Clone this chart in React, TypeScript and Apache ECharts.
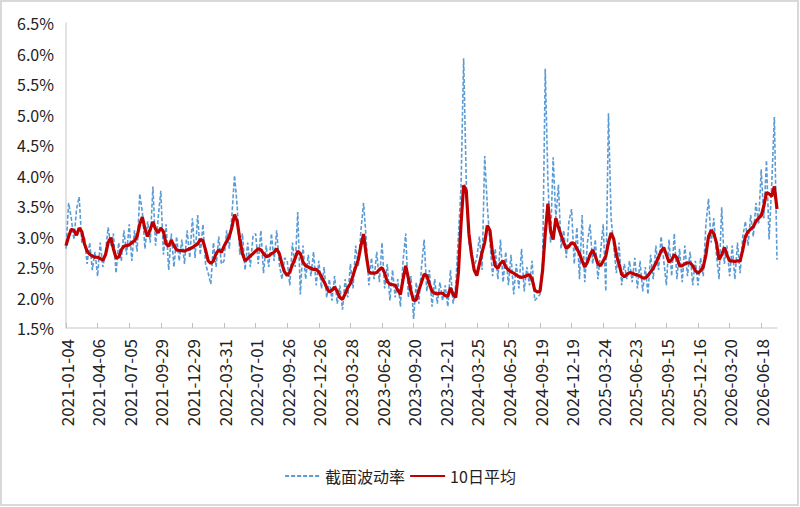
import React, { useEffect, useRef } from "react";
import * as echarts from "echarts";

const tickLabels = [
  "2021-01-04", "2021-04-06", "2021-07-05", "2021-09-29", "2021-12-29",
  "2022-03-31", "2022-07-01", "2022-09-26", "2022-12-26", "2023-03-28",
  "2023-06-28", "2023-09-20", "2023-12-21", "2024-03-25", "2024-06-25",
  "2024-09-19", "2024-12-19", "2025-03-24", "2025-06-23", "2025-09-15",
  "2025-12-16", "2026-03-20", "2026-06-18",
];

// weekly samples (in %), 12 samples between consecutive tick labels
const crossVol = [
  2.8, 3.55, 3.3, 2.95, 3.45, 3.65, 2.9, 3.0, 2.55, 2.9, 2.45, 2.75,
  2.35, 2.9, 2.5, 2.75, 3.15, 2.85, 3.05, 2.4, 2.9, 2.6, 3.1, 2.7,
  3.2, 2.6, 3.1, 2.75, 3.7, 3.4, 2.8, 3.25, 2.9, 3.82, 2.85, 3.3,
  3.75, 2.7, 3.2, 2.45, 3.05, 2.5, 3.0, 2.6, 2.95, 2.55, 3.1, 2.65,
  3.3, 2.65, 3.35, 2.7, 3.2, 2.55, 2.4, 2.22, 2.9, 2.5, 3.0, 2.55,
  2.6, 3.1, 2.8, 3.35, 4.0, 3.5, 2.7, 3.05, 2.45, 2.9, 2.5, 3.0,
  3.05, 2.55, 3.1, 2.4, 2.85, 2.5, 3.05, 2.6, 3.1, 2.55, 2.3, 2.65,
  2.6, 2.2, 2.9, 2.5, 3.4, 2.05, 2.85, 2.3, 2.7, 2.35, 2.75, 2.2,
  2.6, 2.15, 2.5, 2.0, 2.3, 1.95, 2.35, 1.9, 2.2, 1.8, 2.3, 2.0,
  2.55, 2.15, 2.85, 2.5, 3.1, 3.55, 2.95, 2.2, 2.65, 2.3, 2.75, 2.25,
  2.9, 2.15, 2.55, 1.95, 2.45, 2.0, 2.3, 1.85, 2.6, 3.05, 2.0, 2.35,
  1.65, 2.25, 1.9, 2.5, 2.95, 2.1, 2.45, 1.85, 2.3, 1.9, 2.25, 1.95,
  2.2, 1.85, 2.45, 1.9, 2.2, 3.0, 3.8, 5.92, 3.9, 2.9, 2.7, 2.5,
  2.65, 3.0, 2.45, 4.32, 3.5, 2.9, 2.35, 2.8, 2.3, 2.95, 2.25, 2.75,
  2.2, 2.7, 2.05, 2.55, 2.15, 2.8, 2.1, 2.5, 2.2, 2.6, 1.95, 2.0,
  2.05, 2.6, 5.75, 3.9, 2.9, 4.3, 3.3, 3.85, 2.8, 3.1, 2.65, 3.25,
  3.45, 2.55, 3.15, 2.3, 3.35, 2.25, 2.9, 3.2, 2.55, 2.95, 2.3, 2.75,
  3.2, 2.1, 5.02, 3.3, 2.85, 2.4, 2.9, 2.2, 2.55, 2.3, 2.6, 2.25,
  2.65, 2.15, 2.6, 2.1, 2.5, 2.05, 2.7, 2.3, 2.85, 2.45, 3.0, 2.6,
  2.2, 2.95, 2.35, 3.05, 2.3, 2.8, 2.25, 2.85, 2.35, 2.75, 2.2, 2.6,
  2.2, 2.65, 2.35, 3.2, 3.62, 2.9, 3.3, 2.7, 2.3, 3.48, 2.55, 2.85,
  2.35, 2.85, 2.3, 2.9, 2.4, 3.0, 3.25, 2.85, 3.35, 3.0, 3.55, 3.2,
  4.1, 3.3, 4.25, 2.95, 3.85, 4.96, 2.62,
];

const avg10 = [
  2.85, 3.0, 3.12, 3.1, 3.02, 3.14, 3.08, 2.88, 2.76, 2.71, 2.68, 2.66,
  2.66, 2.64, 2.61, 2.7, 2.9, 2.98, 2.8, 2.65, 2.66, 2.78, 2.84, 2.85,
  2.86, 2.9, 2.93, 3.0, 3.2, 3.32, 3.12, 3.0, 3.12, 3.24, 3.12, 3.06,
  3.14, 3.08, 2.88, 2.84, 2.94, 2.85, 2.78, 2.77, 2.77, 2.76, 2.78, 2.8,
  2.82, 2.85, 2.88, 2.95, 2.93, 2.78, 2.6, 2.56, 2.6, 2.72, 2.78, 2.74,
  2.84, 2.92, 3.0, 3.15, 3.36, 3.25, 2.96, 2.72, 2.6, 2.64, 2.68, 2.72,
  2.76, 2.8, 2.78, 2.72, 2.67, 2.68, 2.72, 2.74, 2.8, 2.72, 2.55, 2.42,
  2.36, 2.42, 2.54, 2.64, 2.76, 2.72, 2.58, 2.52, 2.5, 2.48, 2.46, 2.46,
  2.42, 2.34, 2.26, 2.16, 2.09, 2.12, 2.17, 2.1, 2.0, 1.97, 2.06, 2.16,
  2.23, 2.36, 2.5, 2.62, 2.85, 3.04, 2.7, 2.42, 2.4, 2.4, 2.41, 2.46,
  2.49, 2.4, 2.26, 2.22, 2.21, 2.2, 2.12, 2.05, 2.3, 2.52, 2.32, 2.1,
  1.95, 1.96, 2.12, 2.25, 2.38, 2.36, 2.22, 2.1, 2.07, 2.06, 2.07, 2.07,
  2.03, 2.02, 2.16, 2.05, 2.0, 2.4, 3.2, 3.84, 3.75, 3.05, 2.7, 2.45,
  2.36, 2.55, 2.74, 2.9, 3.18, 3.1, 2.72, 2.52, 2.48, 2.56, 2.6, 2.5,
  2.45, 2.42, 2.4, 2.37, 2.34, 2.33, 2.34, 2.36, 2.37, 2.3, 2.12, 2.09,
  2.1, 2.45, 3.05, 3.54, 3.1, 2.95, 3.3, 3.15, 3.02, 2.9, 2.8, 2.84,
  2.9, 2.88, 2.8, 2.72, 2.6, 2.5, 2.58, 2.7, 2.78, 2.68, 2.55, 2.52,
  2.6, 2.68, 2.9, 3.06, 2.96, 2.7, 2.55, 2.38, 2.34, 2.38, 2.41, 2.4,
  2.38, 2.37, 2.35, 2.32, 2.32, 2.36, 2.42, 2.48, 2.56, 2.66, 2.76, 2.82,
  2.7, 2.58, 2.62, 2.7, 2.65, 2.52, 2.52, 2.55, 2.57, 2.57, 2.52, 2.44,
  2.4, 2.44, 2.5, 2.7, 3.0, 3.1, 3.05, 2.9, 2.62, 2.7, 2.82, 2.7,
  2.6, 2.6, 2.59, 2.6, 2.6, 2.78, 3.0, 3.08, 3.12, 3.16, 3.25, 3.3,
  3.34, 3.5, 3.72, 3.7, 3.66, 3.82, 3.45,
];

const seriesNames = ["截面波动率", "10日平均"];
const LABEL_STEP = 12;

export default function App() {
  const ref = useRef<HTMLDivElement>(null);
  useEffect(() => {
    if (!ref.current) return;
    const chart = echarts.init(ref.current, undefined, { renderer: "svg" });
    const categories = crossVol.map((_, i) => String(i));
    const font = "'Noto Sans CJK SC', 'Noto Sans', sans-serif";
    chart.setOption({
      animation: false,
      backgroundColor: "#ffffff",
      textStyle: { fontFamily: font },
      graphic: [
        {
          type: "rect",
          shape: { x: 1, y: 1, width: 797, height: 504 },
          style: { fill: "none", stroke: "#d9d9d9", lineWidth: 2 },
          silent: true,
        },
      ],
      grid: { left: 66, right: 23, top: 23, bottom: 179, containLabel: false },
      legend: {
        data: seriesNames,
        left: "center",
        top: 463,
        itemWidth: 35,
        itemHeight: 12,
        itemGap: 4,
        itemStyle: { opacity: 0 },
        textStyle: { fontSize: 16, color: "#222", fontFamily: font },
      },
      xAxis: {
        type: "category",
        data: categories,
        boundaryGap: false,
        axisLine: { show: true, lineStyle: { color: "#d9d9d9", width: 1.5 } },
        axisTick: {
          show: true,
          inside: true,
          length: 5,
          interval: LABEL_STEP - 1,
          lineStyle: { color: "#bfbfbf" },
        },
        axisLabel: {
          interval: LABEL_STEP - 1,
          rotate: 90,
          margin: 11,
          fontSize: 17,
          color: "#222",
          fontFamily: font,
          formatter: (_v: string, idx: number) =>
            idx % LABEL_STEP === 0 ? tickLabels[idx / LABEL_STEP] ?? "" : "",
        },
        splitLine: { show: false },
      },
      yAxis: {
        type: "value",
        min: 1.5,
        max: 6.5,
        interval: 0.5,
        axisLine: { show: true, lineStyle: { color: "#d9d9d9", width: 1.5 } },
        axisTick: { show: false },
        splitLine: { show: false },
        axisLabel: {
          margin: 12,
          fontSize: 16,
          color: "#222",
          fontFamily: font,
          formatter: (v: number) => v.toFixed(1) + "%",
        },
      },
      series: [
        {
          name: seriesNames[0],
          type: "line",
          data: crossVol,
          symbol: "none",
          showSymbol: false,
          z: 2,
          lineStyle: { color: "#5B9BD5", width: 1.6, type: [4, 2] },
          itemStyle: { color: "#5B9BD5" },
        },
        {
          name: seriesNames[1],
          type: "line",
          data: avg10,
          symbol: "none",
          showSymbol: false,
          z: 3,
          lineStyle: { color: "#C00000", width: 3.2 },
          itemStyle: { color: "#C00000" },
        },
      ],
    });
    return () => chart.dispose();
  }, []);
  return (
    <div
      ref={ref}
      style={{ position: "absolute", left: 0, top: 0, width: 800, height: 507 }}
    />
  );
}
